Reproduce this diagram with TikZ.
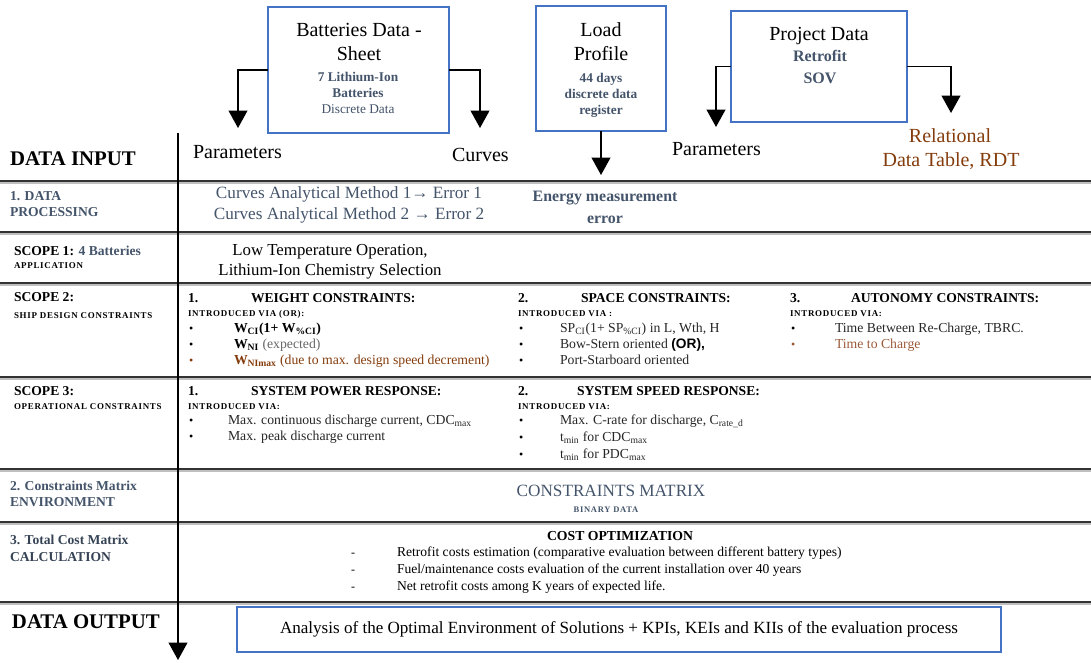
\documentclass[tikz,border=0pt]{standalone}
\usepackage{fontspec}
\setmainfont{Liberation Serif}
\newfontfamily\capsfont[LetterSpace=8]{Liberation Serif}
\newfontfamily\sansfont{Liberation Sans}
\usetikzlibrary{arrows.meta}
\definecolor{boxblue}{HTML}{4472C4}
\definecolor{slate}{HTML}{44546A}
\definecolor{rust}{HTML}{843C0C}
\definecolor{softrust}{HTML}{9A5A3A}
\newcommand\setfs[1]{\fontsize{#1pt}{#1pt}\selectfont}

\begin{document}
\begin{tikzpicture}[x=0.75pt,y=-0.75pt,
  every node/.style={inner sep=0pt, outer sep=0pt},
  txt/.style={anchor=mid west},
  ctxt/.style={anchor=mid},
  srcbox/.style={draw=boxblue, line width=2pt, fill=white},
  rule/.style={line width=1.5pt, draw=black!80},
  ruleshade/.style={line width=1.1pt, draw=black!25},
  flow/.style={line width=1.3pt, -{Triangle[width=14pt,length=13pt]}},
  rowhead/.style={txt, font=\setfs{10.2}\bfseries},
  rowsub/.style={txt, font=\capsfont\bfseries\setfs{6.7}},
  colhead/.style={txt, font=\setfs{10.2}\bfseries},
  via/.style={txt, font=\capsfont\bfseries\setfs{6.7}},
  item/.style={txt, font=\setfs{10.3}, text=black!85},
  dot/.style={txt, font=\setfs{9}},
  big/.style={font=\setfs{15}},
]
\useasboundingbox (0,0) rectangle (1091,662);

% ---- table rules ----
\foreach \yy in {181,232,283,377,469,522,602}{
  \draw[ruleshade] (0,\yy+1.8) -- (1091,\yy+1.8);
  \draw[rule] (0,\yy) -- (1091,\yy);
}

% ---- main flow axis ----
\coordinate (axisTop) at (178,133);
\coordinate (axisEnd) at (178,660);
\draw[flow] (axisTop) -- (axisEnd);

% ---- source boxes ----
\node[srcbox, minimum width=181*0.75pt, minimum height=126*0.75pt] (bat) at (358.5,70) {};
\node[ctxt, big] (batT1) at (359,33) {Batteries Data -};
\node[ctxt, big] (batT2) at (359,57) {Sheet};
\node[ctxt, font=\setfs{10}\bfseries, text=slate] (batT3) at (358,78) {7 Lithium-Ion};
\node[ctxt, font=\setfs{10}\bfseries, text=slate] (batT4) at (358,94) {Batteries};
\node[ctxt, font=\setfs{10}, text=slate] (batT5) at (358,110) {Discrete Data};

\node[srcbox, minimum width=130*0.75pt, minimum height=125*0.75pt] (load) at (601,68.5) {};
\node[ctxt, big] (loadT1) at (601,33) {Load};
\node[ctxt, big] (loadT2) at (601,57) {Profile};
\node[ctxt, font=\setfs{10}\bfseries, text=slate] (loadT3) at (601,79) {44 days};
\node[ctxt, font=\setfs{10}\bfseries, text=slate] (loadT4) at (601,95) {discrete data};
\node[ctxt, font=\setfs{10}\bfseries, text=slate] (loadT5) at (601,111) {register};

\node[srcbox, minimum width=176*0.75pt, minimum height=111*0.75pt] (proj) at (819,66.5) {};
\node[ctxt, big] (projT1) at (819,37) {Project Data};
\node[ctxt, font=\setfs{12}\bfseries, text=slate] (projT2) at (820,58) {Retrofit};
\node[ctxt, font=\setfs{12}\bfseries, text=slate] (projT3) at (820,80) {SOV};

% ---- input arrows ----
\coordinate (batL) at (238,128);
\coordinate (batR) at (480,128);
\coordinate (loadD) at (601,175);
\coordinate (projL) at (716,127);
\coordinate (projR) at (951,113);
\draw[flow] (bat.west) -| (batL);
\draw[flow] (bat.east) -| (batR);
\draw[flow] (load.south) -- (loadD);
\draw[flow] (proj.west) -| (projL);
\draw[flow] (proj.east) -| (projR);

% ---- data input row ----
\node[txt, font=\setfs{15.6}\bfseries] (din) at (10,162) {DATA INPUT};
\node[txt, big] (parL) at (193,155) {Parameters};
\node[txt, big] (curv) at (452,158) {Curves};
\node[txt, big] (parR) at (672,152) {Parameters};
\node[ctxt, big, text=rust] (rdt1) at (950,139) {Relational};
\node[ctxt, big, text=rust] (rdt2) at (951,163) {Data Table, RDT};

% ---- 1. data processing ----
\node[rowhead, text=slate] (dp1) at (10,197) {1. DATA};
\node[rowhead, text=slate] (dp2) at (10,213) {PROCESSING};
\node[ctxt, font=\setfs{12.9}, text=slate] (cm1) at (349,195) {Curves Analytical Method 1→ Error 1};
\node[ctxt, font=\setfs{12.9}, text=slate] (cm2) at (349,216) {Curves Analytical Method 2 → Error 2};
\node[ctxt, font=\setfs{11.9}\bfseries, text=slate] (em1) at (605,198) {Energy measurement};
\node[ctxt, font=\setfs{11.9}\bfseries, text=slate] (em2) at (605,220) {error};

% ---- scope 1 ----
\node[rowhead] (s1a) at (14,252) {SCOPE 1: \textcolor{slate}{4 Batteries}};
\node[rowsub] (s1b) at (14,265) {APPLICATION};
\node[ctxt, font=\setfs{12.6}] (lt1) at (330,252) {Low Temperature Operation,};
\node[ctxt, font=\setfs{12.6}] (lt2) at (330,272) {Lithium-Ion Chemistry Selection};

% ---- scope 2 ----
\node[rowhead] (s2a) at (14,298) {SCOPE 2:};
\node[rowsub] (s2b) at (14,315) {SHIP DESIGN CONSTRAINTS};

\node[colhead] (w0) at (188,299) {1.};
\node[colhead] (wh) at (251,299) {WEIGHT CONSTRAINTS:};
\node[via] (wv) at (188,313) {INTRODUCED VIA (OR):};
\node[dot] (wb1) at (189,329) {•};
\node[dot] (wb2) at (189,345) {•};
\node[dot, text=rust] (wb3) at (189,361) {•};
\node[item, text=black] (wi1) at (234,329) {\textbf{W\textsubscript{CI}(1+ W\textsubscript{\%CI})}};
\node[item, text=black!60] (wi2) at (234,345) {\textbf{\textcolor{black}{W\textsubscript{NI}}} (expected)};
\node[item, text=rust] (wi3) at (234,361) {\textbf{W\textsubscript{NImax}} (due to max. design speed decrement)};

\node[colhead] (sp0) at (518,299) {2.};
\node[colhead] (sph) at (581,299) {SPACE CONSTRAINTS:};
\node[via] (spv) at (518,313) {INTRODUCED VIA :};
\node[dot] (spb1) at (519,329) {•};
\node[dot] (spb2) at (519,345) {•};
\node[dot] (spb3) at (519,361) {•};
\node[item] (spi1) at (560,329) {SP\textsubscript{CI}(1+ SP\textsubscript{\%CI}) in L, Wth, H};
\node[item] (spi2) at (560,345) {Bow-Stern oriented {\sansfont\bfseries\color{black}(OR),}};
\node[item] (spi3) at (560,361) {Port-Starboard oriented};

\node[colhead] (au0) at (790,299) {3.};
\node[colhead] (auh) at (851,299) {AUTONOMY CONSTRAINTS:};
\node[via] (auv) at (790,313) {INTRODUCED VIA:};
\node[dot] (aub1) at (791,329) {•};
\node[dot, text=softrust] (aub2) at (791,345) {•};
\node[item] (aui1) at (835,329) {Time Between Re-Charge, TBRC.};
\node[item, text=softrust] (aui2) at (835,345) {Time to Charge};

% ---- scope 3 ----
\node[rowhead] (s3a) at (14,392) {SCOPE 3:};
\node[rowsub] (s3b) at (14,406) {OPERATIONAL CONSTRAINTS};

\node[colhead] (pr0) at (188,392) {1.};
\node[colhead] (prh) at (251,392) {SYSTEM POWER RESPONSE:};
\node[via] (prv) at (188,406) {INTRODUCED VIA:};
\node[dot] (prb1) at (189,421) {•};
\node[dot] (prb2) at (189,437) {•};
\node[item] (pri1) at (228,421) {Max. continuous discharge current, CDC\textsubscript{max}};
\node[item] (pri2) at (228,437) {Max. peak discharge current};

\node[colhead] (sr0) at (518,392) {2.};
\node[colhead] (srh) at (577,392) {SYSTEM SPEED RESPONSE:};
\node[via] (srv) at (518,406) {INTRODUCED VIA:};
\node[dot] (srb1) at (519,421) {•};
\node[dot] (srb2) at (519,438) {•};
\node[dot] (srb3) at (519,455) {•};
\node[item] (sri1) at (560,421) {Max. C-rate for discharge, C\textsubscript{rate\_d}};
\node[item] (sri2) at (560,438) {t\textsubscript{min} for CDC\textsubscript{max}};
\node[item] (sri3) at (560,455) {t\textsubscript{min} for PDC\textsubscript{max}};

% ---- 2. constraints matrix ----
\node[rowhead, text=slate] (cx1) at (10,487) {2. Constraints Matrix};
\node[rowhead, text=slate] (cx2) at (10,503) {ENVIRONMENT};
\node[ctxt, font=\setfs{12.9}, text=slate] (cmx) at (611,493) {CONSTRAINTS MATRIX};
\node[ctxt, font=\capsfont\bfseries\setfs{6.4}, text=slate] (bin) at (606,509) {BINARY DATA};

% ---- 3. total cost matrix ----
\node[rowhead, text=slate!80!black] (tc1) at (10,541) {3. Total Cost Matrix};
\node[rowhead, text=slate!80!black] (tc2) at (10,558) {CALCULATION};
\node[ctxt, font=\setfs{10.3}\bfseries] (co) at (620,537) {COST OPTIMIZATION};
\node[dot] (cd1) at (351,553) {-};
\node[dot] (cd2) at (351,570) {-};
\node[dot] (cd3) at (351,587) {-};
\node[txt, font=\setfs{10.2}] (ct1) at (397,553) {Retrofit costs estimation (comparative evaluation between different battery types)};
\node[txt, font=\setfs{10.2}] (ct2) at (397,570) {Fuel/maintenance costs evaluation of the current installation over 40 years};
\node[txt, font=\setfs{10.2}] (ct3) at (397,587) {Net retrofit costs among K years of expected life.};

% ---- data output ----
\node[txt, font=\setfs{15.6}\bfseries] (dout) at (12,625) {DATA OUTPUT};
\node[srcbox, minimum width=764*0.75pt, minimum height=45*0.75pt, font=\setfs{12.8}] (out) at (619,629.5)
  {Analysis of the Optimal Environment of Solutions + KPIs, KEIs and KIIs of the evaluation process};
\end{tikzpicture}
\end{document}
